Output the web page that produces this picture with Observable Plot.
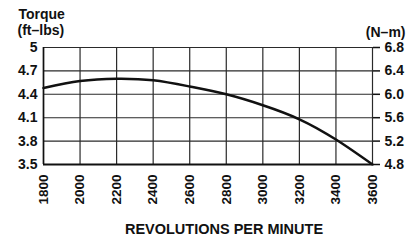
<!DOCTYPE html>
<html>
<head>
<meta charset="utf-8">
<script src="https://cdn.jsdelivr.net/npm/d3@7"></script>
<script src="https://cdn.jsdelivr.net/npm/@observablehq/plot@0.6"></script>
<style>
  html, body { margin: 0; padding: 0; background: #fff; }
  svg { display: block; }
</style>
</head>
<body>
<div id="chart"></div>
<script>
const rpm = [1800, 2000, 2200, 2400, 2600, 2800, 3000, 3200, 3400, 3600];
const torque = [4.48, 4.57, 4.60, 4.58, 4.50, 4.40, 4.26, 4.08, 3.82, 3.50];
const ftTicks = [3.5, 3.8, 4.1, 4.4, 4.7, 5];
const nmTicks = ["4.8", "5.2", "5.6", "6.0", "6.4", "6.8"];
const leftTitle = ["Torque", "(ft–lbs)"];
const rightTitle = ["(N–m)"];
const xTitle = ["REVOLUTIONS PER MINUTE"];

const data = rpm.map((r, i) => ({rpm: r, torque: torque[i]}));
const font = "'Liberation Sans', Arial, Helvetica, sans-serif";

const chart = Plot.plot({
  width: 413,
  height: 240,
  marginLeft: 43,
  marginRight: 41,
  marginTop: 47,
  marginBottom: 76,
  x: {domain: [1800, 3600]},
  y: {domain: [3.5, 5]},
  style: {fontFamily: font, fontWeight: "bold", fontSize: "13px", color: "#111", background: "#fff"},
  marks: [
    Plot.gridY(ftTicks, {stroke: "#2a2a2a", strokeOpacity: 1, strokeWidth: 1.1}),
    Plot.gridX(rpm, {stroke: "#2a2a2a", strokeOpacity: 1, strokeWidth: 1.2}),
    Plot.ruleX([1800], {stroke: "#111", strokeWidth: 1.6}),
    Plot.ruleY([3.5], {stroke: "#111", strokeWidth: 2.2}),
    Plot.axisY(ftTicks, {anchor: "left", tickSize: 0, tickPadding: 6, label: null, tickFormat: d => String(d), fontSize: 14}),
    Plot.axisY(ftTicks, {anchor: "right", tickSize: 7, tickPadding: 5, strokeWidth: 1.5, label: null,
      tickFormat: d => nmTicks[ftTicks.indexOf(d)], fontSize: 14}),
    Plot.axisX(rpm, {anchor: "bottom", tickSize: 0, tickPadding: 10, tickRotate: -90, label: null,
      tickFormat: d => String(d), fontSize: 13.5}),
    Plot.line(data, {x: "rpm", y: "torque", curve: "natural", stroke: "#111", strokeWidth: 2.5}),
    Plot.text([leftTitle[0]], {text: d => d, frameAnchor: "top-left", textAnchor: "start", lineAnchor: "bottom",
      dx: -25, dy: -29, fontSize: 14, fontWeight: "bold"}),
    Plot.text([leftTitle[1]], {text: d => d, frameAnchor: "top-left", textAnchor: "start", lineAnchor: "bottom",
      dx: -26, dy: -13, fontSize: 14, fontWeight: "bold"}),
    Plot.text(rightTitle, {text: d => d, frameAnchor: "top-right", textAnchor: "end", lineAnchor: "bottom",
      dx: 33, dy: -11, fontSize: 14, fontWeight: "bold"}),
    Plot.text(xTitle, {text: d => d, frameAnchor: "bottom", textAnchor: "middle", lineAnchor: "bottom",
      dx: 16, dy: 69, fontSize: 14.5, fontWeight: "bold"})
  ]
});
document.getElementById("chart").appendChild(chart);
</script>
</body>
</html>
